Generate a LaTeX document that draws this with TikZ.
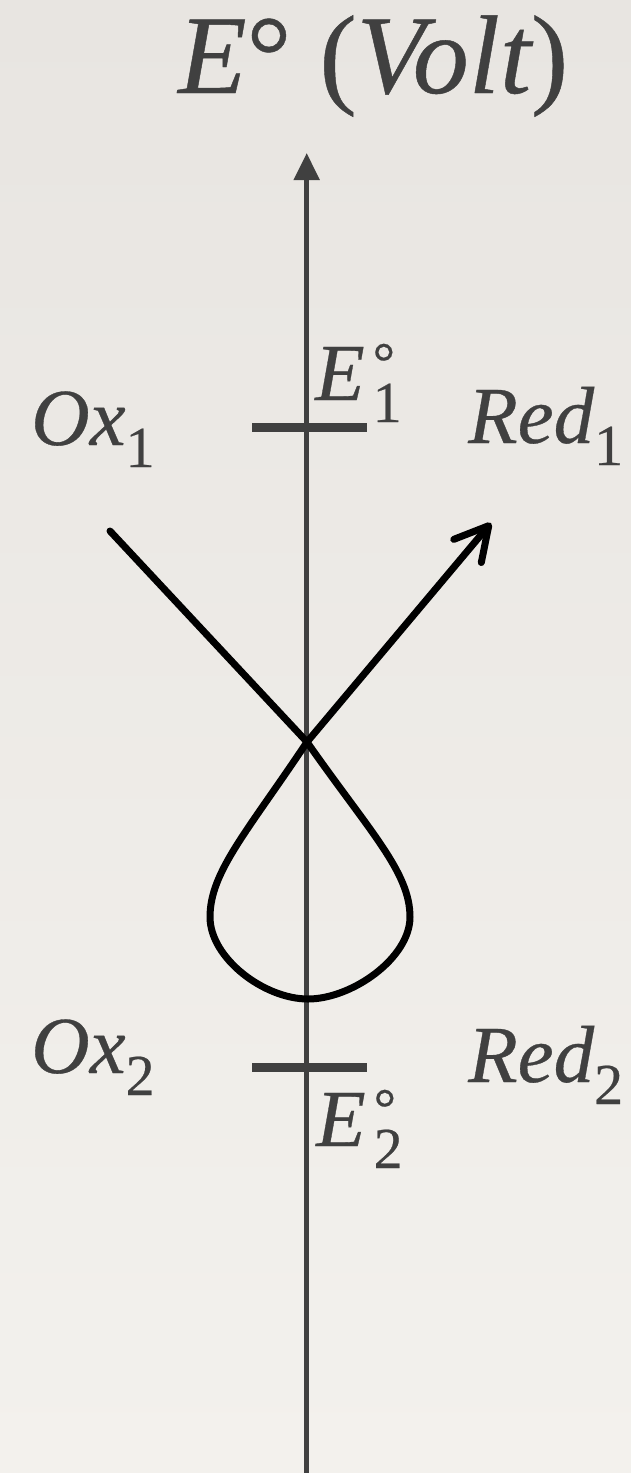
\documentclass[tikz,border=0pt]{standalone}
\usepackage{fontspec}
\setmainfont{Liberation Serif}[FakeBold=0.4]
\usetikzlibrary{arrows.meta}
\definecolor{ink}{HTML}{404040}
\definecolor{bgtop}{RGB}{232,229,225}
\definecolor{bgbot}{RGB}{243,241,237}
\newcommand{\chemlab}[2]{{\itshape #1}\raisebox{-22pt}{\fontsize{58}{58}\selectfont #2}}
\newcommand{\potlab}[1]{{\itshape E}\kern8pt\rlap{\raisebox{19pt}{\fontsize{56}{56}\selectfont °}}\raisebox{-22pt}{\fontsize{58}{58}\selectfont #1}}
\tikzset{
  lab/.style={anchor=base west, inner sep=0pt, text=ink, font=\fontsize{81}{81}\selectfont},
  axisline/.style={draw=ink, line width=5pt},
  tickline/.style={draw=ink, line width=9pt},
  path/.style={draw=black, line width=7pt, line cap=round, line join=round}
}
\begin{document}
\begin{tikzpicture}[x=1pt,y=-1pt]
\fill[top color=bgtop,bottom color=bgbot] (0,0) rectangle (631,1473);
\useasboundingbox (0,0) rectangle (631,1473);
% title
\node[lab, font=\fontsize{112}{112}\selectfont] (title) at (178,93) {{\itshape E}° ({\itshape Volt})};
% axis
\coordinate (axbot) at (306.7,1473);
\coordinate (axtop) at (306.7,153);
\draw[axisline, -{Triangle[length=27pt,width=25pt]}] (axbot) -- (axtop);
% ticks
\coordinate (t1l) at (252,427); \coordinate (t1r) at (367,427);
\coordinate (t2l) at (252,1067); \coordinate (t2r) at (367,1067);
\draw[tickline] (t1l) -- (t1r);
\draw[tickline] (t2l) -- (t2r);
% labels
\node[lab] (ox1) at (31,445) {\chemlab{Ox}{1}};
\node[lab] (red1) at (468,443) {\chemlab{Red}{1}};
\node[lab] (ox2) at (31,1073) {\chemlab{Ox}{2}};
\node[lab] (red2) at (468,1082) {\chemlab{Red}{2}};
\node[lab] (e1) at (315,400) {\potlab{1}};
\node[lab] (e2) at (316,1146) {\potlab{2}};
% reaction path
\coordinate (start) at (110,531);
\coordinate (X) at (307,742);
\coordinate (R) at (410,917);
\coordinate (B) at (308,999);
\coordinate (L) at (210,917);
\coordinate (tip) at (491,523);
\draw[path, -{Straight Barb[length=33pt,width=36pt,round]}]
  (start) -- (X)
  .. controls (370,832) and (410,872) .. (R)
  .. controls (410,958) and (352,999) .. (B)
  .. controls (264,999) and (210,958) .. (L)
  .. controls (210,872) and (247,832) .. (X)
  -- (tip);
\end{tikzpicture}
\end{document}
